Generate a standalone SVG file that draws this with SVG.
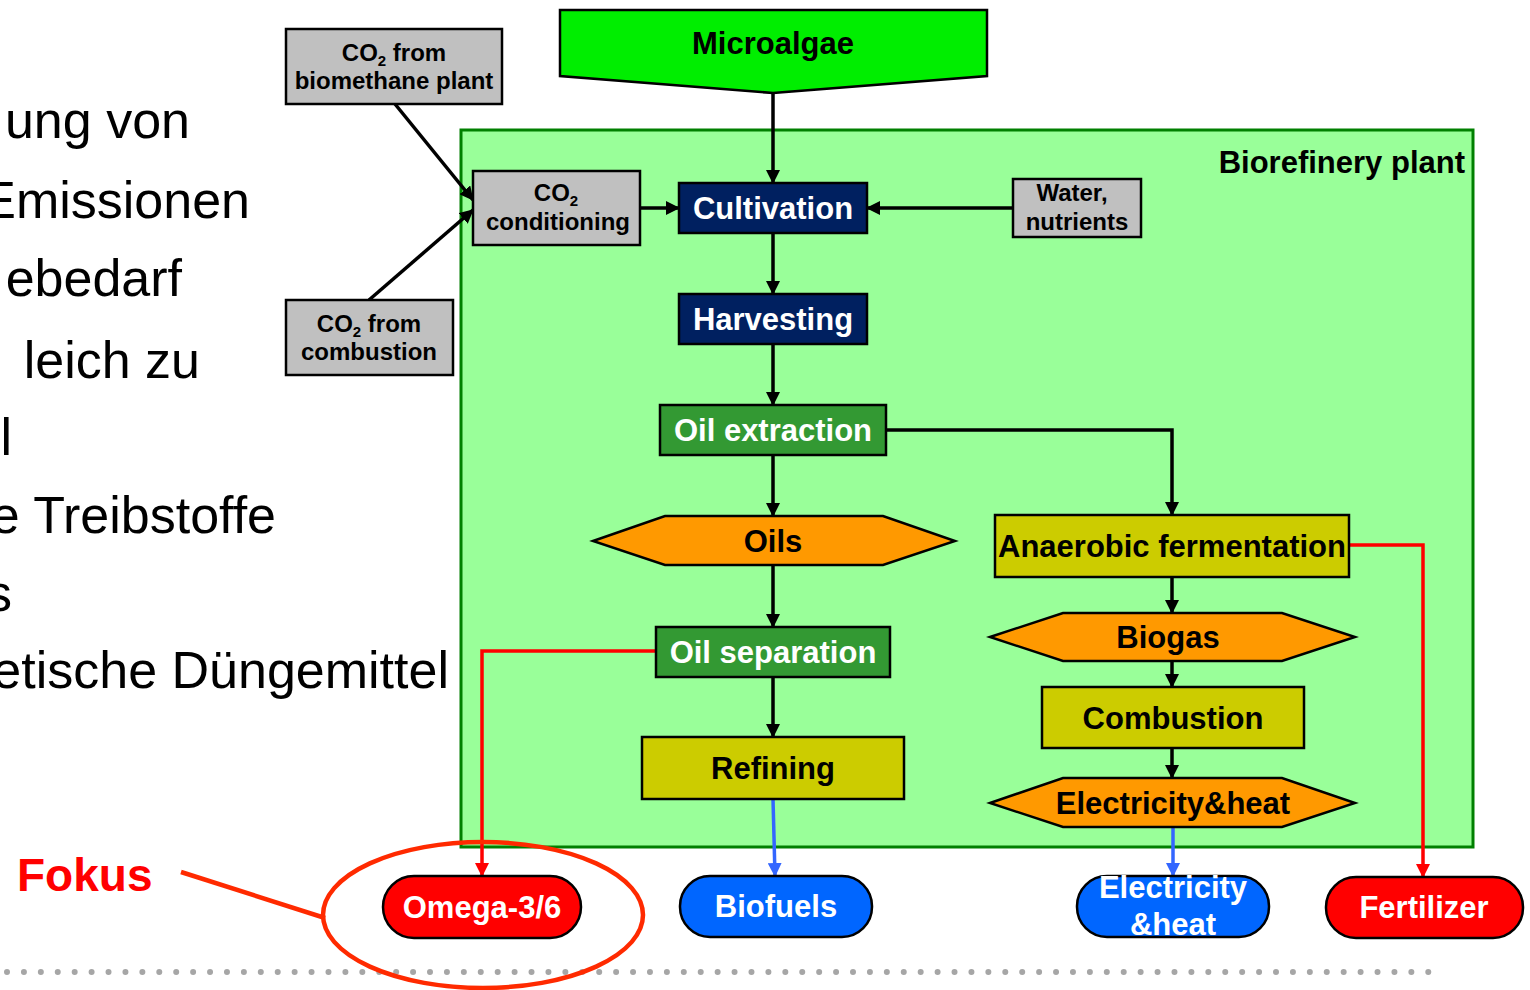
<svg xmlns="http://www.w3.org/2000/svg" width="1530" height="990" viewBox="0 0 1530 990">
<style>
.lt{font-family:"Liberation Sans",Arial,sans-serif;font-size:52px;fill:#000;text-anchor:end}
.t{font-family:"Liberation Sans",Arial,sans-serif;font-weight:bold;font-size:31px;text-anchor:middle}
.s{font-family:"Liberation Sans",Arial,sans-serif;font-weight:bold;font-size:24px;text-anchor:middle;fill:#000}
.sub{font-size:15px}
.w{fill:#fff}
.k{fill:#000}
.box{stroke:#000;stroke-width:2.5}
.gray{fill:#C0C0C0}
.navy{fill:#002060}
.grn{fill:#339933}
.yel{fill:#CCCC00}
.org{fill:#FF9900}
.blue{fill:#0066FF}
.red{fill:#FF0000}
.c{fill:none;stroke:#000;stroke-width:3.5}
.cr{fill:none;stroke:#FF0000;stroke-width:3.5}
.cb{fill:none;stroke:#3366FF;stroke-width:3.5}
</style>
<defs>
<marker id="ak" markerUnits="userSpaceOnUse" markerWidth="14" markerHeight="14" viewBox="0 0 14 14" refX="13" refY="7" orient="auto"><path d="M0,0 L14,7 L0,14 z" fill="#000"/></marker>
<marker id="ar" markerUnits="userSpaceOnUse" markerWidth="14" markerHeight="14" viewBox="0 0 14 14" refX="13" refY="7" orient="auto"><path d="M0,0 L14,7 L0,14 z" fill="#FF0000"/></marker>
<marker id="ab" markerUnits="userSpaceOnUse" markerWidth="14" markerHeight="14" viewBox="0 0 14 14" refX="13" refY="7" orient="auto"><path d="M0,0 L14,7 L0,14 z" fill="#3366FF"/></marker>
</defs>
<rect width="1530" height="990" fill="#fff"/>
<g id="left-text">
<text class="lt" x="190" y="138">ung von</text>
<text class="lt" x="250" y="218">Emissionen</text>
<text class="lt" x="182" y="296">ebedarf</text>
<text class="lt" x="200" y="378">leich zu</text>
<text class="lt" x="12" y="455">l</text>
<text class="lt" x="276" y="533">e Treibstoffe</text>
<text class="lt" x="12" y="611">s</text>
<text class="lt" x="449" y="688">etische Düngemittel</text>
</g>
<line x1="7" y1="972" x2="1430" y2="972" stroke="#A6A6A6" stroke-width="6" stroke-linecap="round" stroke-dasharray="0 16.92"/>
<g id="biorefinery-plant">
<rect x="461" y="130" width="1012" height="717" fill="#99FF99" stroke="#008000" stroke-width="3"/>
<text class="t k" x="1465" y="173" style="text-anchor:end">Biorefinery plant</text>
</g>
<g id="connectors">
<line class="c" x1="773" y1="93" x2="773" y2="183" marker-end="url(#ak)"/>
<line class="c" x1="395" y1="104" x2="473" y2="200" marker-end="url(#ak)"/>
<line class="c" x1="369" y1="300" x2="473" y2="210" marker-end="url(#ak)"/>
<line class="c" x1="640" y1="208" x2="679" y2="208" marker-end="url(#ak)"/>
<line class="c" x1="1013" y1="208" x2="867" y2="208" marker-end="url(#ak)"/>
<line class="c" x1="773" y1="233" x2="773" y2="294" marker-end="url(#ak)"/>
<line class="c" x1="773" y1="344" x2="773" y2="405" marker-end="url(#ak)"/>
<line class="c" x1="773" y1="455" x2="773" y2="516" marker-end="url(#ak)"/>
<polyline class="c" points="886,430 1172,430 1172,515" marker-end="url(#ak)"/>
<line class="c" x1="773" y1="565" x2="773" y2="627" marker-end="url(#ak)"/>
<line class="c" x1="773" y1="677" x2="773" y2="737" marker-end="url(#ak)"/>
<polyline class="cr" points="656,651 482,651 482,876" marker-end="url(#ar)"/>
<line class="cb" x1="773" y1="799" x2="775" y2="876" marker-end="url(#ab)"/>
<line class="c" x1="1172" y1="577" x2="1172" y2="613" marker-end="url(#ak)"/>
<line class="c" x1="1172" y1="661" x2="1172" y2="687" marker-end="url(#ak)"/>
<line class="c" x1="1172" y1="748" x2="1172" y2="778" marker-end="url(#ak)"/>
<line class="cb" x1="1173" y1="827" x2="1173" y2="876" marker-end="url(#ab)"/>
<polyline class="cr" points="1349,545 1423,545 1423,877" marker-end="url(#ar)"/>
<line x1="181" y1="872" x2="325" y2="918" stroke="#FF2A00" stroke-width="4.5"/>
</g>
<g id="microalgae">
<polygon class="box" points="560,10 987,10 987,76 773,93 560,76" fill="#00EE00"/>
<text class="t k" x="773" y="54">Microalgae</text>
</g>
<g id="co2-biomethane">
<rect class="box gray" x="286" y="29" width="216" height="75"/>
<text class="s" x="394" y="61">CO<tspan class="sub" dy="5">2</tspan><tspan dy="-5"> from</tspan></text>
<text class="s" x="394" y="89">biomethane plant</text>
</g>
<g id="co2-combustion">
<rect class="box gray" x="286" y="300" width="167" height="75"/>
<text class="s" x="369" y="332">CO<tspan class="sub" dy="5">2</tspan><tspan dy="-5"> from</tspan></text>
<text class="s" x="369" y="360">combustion</text>
</g>
<g id="co2-conditioning">
<rect class="box gray" x="473" y="171" width="167" height="74"/>
<text class="s" x="556" y="201">CO<tspan class="sub" dy="5">2</tspan></text>
<text class="s" x="558" y="230">conditioning</text>
</g>
<g id="cultivation">
<rect class="box navy" x="679" y="183" width="188" height="50"/>
<text class="t w" x="773" y="219">Cultivation</text>
</g>
<g id="water-nutrients">
<rect class="box gray" x="1013" y="179" width="128" height="58"/>
<text class="s" x="1072" y="201">Water,</text>
<text class="s" x="1077" y="230">nutrients</text>
</g>
<g id="harvesting">
<rect class="box navy" x="679" y="294" width="188" height="50"/>
<text class="t w" x="773" y="330">Harvesting</text>
</g>
<g id="oil-extraction">
<rect class="box grn" x="660" y="405" width="226" height="50"/>
<text class="t w" x="773" y="441">Oil extraction</text>
</g>
<g id="oils">
<polygon class="box org" points="593,541 665,516 883,516 955,541 883,565 665,565"/>
<text class="t k" x="773" y="552">Oils</text>
</g>
<g id="oil-separation">
<rect class="box grn" x="656" y="627" width="234" height="50"/>
<text class="t w" x="773" y="663">Oil separation</text>
</g>
<g id="refining">
<rect class="box yel" x="642" y="737" width="262" height="62"/>
<text class="t k" x="773" y="779">Refining</text>
</g>
<g id="anaerobic-fermentation">
<rect class="box yel" x="995" y="515" width="354" height="62"/>
<text class="t k" x="1172" y="557">Anaerobic fermentation</text>
</g>
<g id="biogas">
<polygon class="box org" points="990,637 1063,613 1282,613 1355,637 1282,661 1063,661"/>
<text class="t k" x="1168" y="648">Biogas</text>
</g>
<g id="combustion">
<rect class="box yel" x="1042" y="687" width="262" height="61"/>
<text class="t k" x="1173" y="729">Combustion</text>
</g>
<g id="electricity-heat-hex">
<polygon class="box org" points="990,803 1063,778 1282,778 1355,803 1282,827 1063,827"/>
<text class="t k" x="1173" y="814">Electricity&amp;heat</text>
</g>
<g id="omega">
<rect class="box red" x="383" y="876" width="198" height="62" rx="31"/>
<text class="t w" x="482" y="918">Omega-3/6</text>
</g>
<g id="biofuels">
<rect class="box blue" x="680" y="876" width="192" height="61" rx="30"/>
<text class="t w" x="776" y="917">Biofuels</text>
</g>
<g id="electricity-heat">
<rect class="box blue" x="1077" y="876" width="192" height="61" rx="30"/>
<text class="t w" x="1173" y="898">Electricity</text>
<text class="t w" x="1173" y="935">&amp;heat</text>
</g>
<g id="fertilizer">
<rect class="box red" x="1326" y="877" width="197" height="61" rx="30"/>
<text class="t w" x="1424" y="918">Fertilizer</text>
</g>
<g id="fokus">
<text x="17" y="891" style="font-family:'Liberation Sans',Arial,sans-serif;font-weight:bold;font-size:46px;fill:#FF0000">Fokus</text>
<ellipse cx="483" cy="915" rx="160" ry="73" fill="none" stroke="#FF2A00" stroke-width="4.5"/>
</g>
</svg>
